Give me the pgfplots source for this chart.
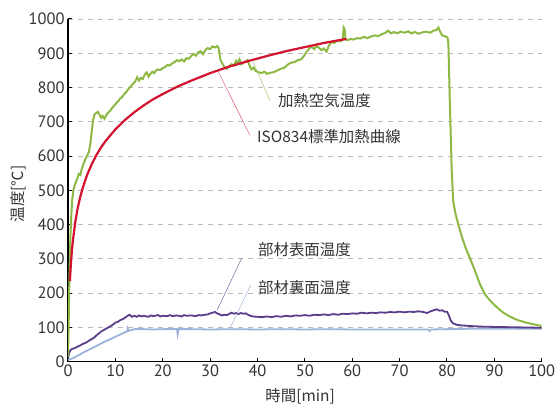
\documentclass[border=0pt]{standalone}
\usepackage{pgfplots}
\pgfplotsset{compat=1.18}
\usepackage{fontspec}
\setmainfont{PT Sans}
\newfontfamily\jp{Noto Sans CJK JP}
\definecolor{cgreen}{HTML}{8DB843}
\definecolor{cred}{HTML}{D2122E}
\definecolor{cpurple}{HTML}{5A3E8A}
\definecolor{cblue}{HTML}{9DB4DA}
\definecolor{ctext}{HTML}{333333}
\begin{document}
\begin{tikzpicture}
\begin{axis}[
  scale only axis, width=473.7bp, height=342.7bp,
  xmin=0, xmax=100, ymin=0, ymax=1000,
  axis x line=bottom, axis y line=left,
  axis line style={line width=1.4bp, -},
  xtick={0,10,...,100}, ytick={0,100,...,1000},
  tick align=inside, major tick length=4bp,
  tick style={black, line width=1bp},
  ymajorgrids,
  major grid style={gray!55, line width=0.8bp, dash pattern=on 5bp off 5bp},
  ticklabel style={font=\fontsize{16.5}{18}\selectfont, text=ctext},
  /pgf/number format/assume math mode=true,
  /pgf/number format/1000 sep={},
  xlabel={\jp 時間[min]},
  ylabel={\jp 温度[℃]},
  xlabel style={font=\fontsize{15.5}{17}\selectfont, text=ctext, at={(axis description cs:0.49,-0.1)}, anchor=center},
  ylabel style={font=\fontsize{15.5}{17}\selectfont, text=ctext, at={(axis description cs:-0.1055,0.49)}, anchor=center},
]
\addplot[cblue, line width=1.8bp] coordinates {
(0,5) (1,10) (2,17) (3,25) (4,32) (5,39) (6,46) (7,53) (8,60) (9,66) (10,73) (11,79) (12,86) (12.5,88) (12.6,97) (12.8,90) (13.2,92) (14,95) (16,95) (18,94) (20,95) (22,95) (23.0,95) (23.15,80) (23.35,95) (26,95) (30,94) (35,95) (40,94) (45,95) (50,94) (55,95) (60,94) (65,94) (70,94) (75,94) (76.0,94) (76.3,89) (76.7,94) (80,95) (85,96) (90,96) (95,96) (100,96)
};
\addplot[cpurple, line width=1.8bp] coordinates {
(0,10) (0.3,28) (0.6,35) (1.0,38) (1.5,40) (2.0,44) (2.5,47) (3.0,51) (3.5,54) (4.0,57) (4.5,62) (5.0,66) (5.5,70) (6.0,77) (6.5,82) (7.0,88) (7.5,92) (8.0,96) (8.5,100) (9.0,104) (9.5,108) (10.0,114) (10.5,116) (11.0,121) (11.5,124) (12.0,128) (12.5,133) (13.0,137) (13.5,131) (14.0,134) (14.5,131) (15.0,135) (15.5,132) (16.0,134) (17.0,131) (17.5,135) (18.0,133) (19.0,136) (19.5,132) (20.0,134) (21.0,133) (21.5,136) (22.0,133) (23.0,135) (24.0,132) (24.5,136) (25.0,134) (26.0,135) (27.0,133) (27.5,136) (28.0,135) (29.0,137) (29.5,138) (30.0,141) (30.5,143) (31.0,145) (31.5,141) (32.0,138) (32.5,135) (33.0,137) (33.5,136) (34.0,139) (34.5,143) (35.0,140) (35.5,142) (36.0,139) (36.5,142) (37.0,140) (37.5,141) (38.0,137) (38.5,134) (39.0,132) (40.0,131) (41.0,130) (42.0,132) (43.0,130) (44.0,133) (45.0,131) (46.0,134) (47.0,132) (48.0,135) (49.0,134) (50.0,136) (51.0,134) (52.0,137) (53.0,136) (54.0,138) (55.0,136) (56.0,139) (57.0,137) (58.0,140) (59.0,139) (60.0,141) (61.0,140) (62.0,143) (63.0,141) (64.0,143) (65.0,142) (66.0,144) (67.0,143) (68.0,145) (69.0,144) (70.0,146) (71.0,144) (72.0,146) (73.0,145) (74.0,147) (75.0,145) (75.8,142) (76.5,147) (77.2,150) (77.8,153) (78.4,149) (79.0,150) (79.5,146) (80.0,146) (80.4,135) (80.8,120) (81.3,112) (82.0,108) (83.0,106) (85.0,104) (88.0,102) (92.0,101) (96.0,100) (100.0,99)
};
\addplot[cgreen, line width=2bp] coordinates {
(0,15) (0.15,120) (0.3,250) (0.5,360) (0.7,430) (0.9,475) (1.2,505) (1.5,518) (1.9,532) (2.3,548) (2.6,545) (2.9,562) (3.3,578) (3.7,592) (4.1,603) (4.4,612) (4.7,635) (5.0,670) (5.3,705) (5.6,722) (6.0,726) (6.3,729) (6.6,722) (7.0,712) (7.3,717) (7.7,709) (8.1,720) (8.5,727) (9.0,734) (9.4,742) (9.8,748) (10.2,755) (10.6,760) (11.0,768) (11.4,772) (11.8,780) (12.2,785) (12.6,793) (13.0,800) (13.4,806) (13.8,812) (14.2,818) (14.6,830) (15.0,820) (15.4,828) (15.8,825) (16.2,838) (16.6,844) (17.0,832) (17.4,840) (17.8,846) (18.2,842) (18.6,850) (19.0,853) (19.5,851) (20.0,857) (20.5,860) (21.0,866) (21.5,864) (22.0,871) (22.5,874) (23.0,880) (23.5,877) (24.0,882) (24.5,876) (25.0,886) (25.5,884) (26.0,892) (26.5,898) (27.0,893) (27.5,903) (28.0,906) (28.5,897) (29.0,910) (29.5,915) (30.0,912) (30.5,920) (31.0,917) (31.5,921) (31.8,915) (32.2,880) (32.6,870) (33.0,860) (33.5,855) (34.0,862) (34.5,868) (35.0,864) (35.5,878) (35.8,870) (36.2,882) (36.6,868) (37.0,872) (37.5,876) (37.9,880) (38.3,865) (38.7,853) (39.2,858) (39.6,848) (40.2,845) (40.8,842) (41.5,846) (42.0,840) (42.7,843) (43.5,845) (44.2,850) (45.0,855) (45.7,858) (46.3,866) (47.0,872) (47.8,874) (48.5,880) (49.2,882) (49.8,892) (50.4,905) (51.0,915) (51.5,918) (52.0,912) (52.4,921) (53.0,916) (53.5,909) (54.0,914) (54.6,905) (55.0,920) (55.6,933) (56.2,930) (56.8,937) (57.5,935) (58.0,940) (58.2,975) (58.4,970) (58.6,940) (59.0,938) (59.6,942) (60.2,940) (61.0,944) (61.7,943) (62.5,948) (63.2,944) (64.0,949) (64.8,952) (65.5,950) (66.2,955) (67.0,960) (67.6,966) (68.2,958) (68.8,962) (69.5,958) (70.2,963) (71.0,960) (71.8,964) (72.5,958) (73.2,962) (74.0,957) (74.8,961) (75.6,963) (76.4,960) (77.2,966) (77.8,968) (78.2,975) (78.6,962) (79.0,952) (79.6,950) (80.1,946) (80.3,930) (80.6,760) (81.0,560) (81.3,470) (81.8,432) (82.4,400) (83.2,362) (84.0,330) (85.0,297) (86.0,262) (87.0,225) (88.0,197) (89.0,180) (90.0,166) (91.0,153) (92.0,142) (93.0,134) (94.0,127) (95.0,121) (96.0,117) (97.0,113) (98.0,110) (99.0,107) (100.0,104)
};
\addplot[cred, line width=2.2bp] coordinates {
(0.4,235) (0.6,283) (0.8,320) (1,349) (1.5,404) (2,445) (2.5,476) (3,502) (4,544) (5,576) (6,603) (7,626) (8,645) (10,678) (12,705) (14,728) (16,748) (18,766) (20,781) (23,802) (26,820) (30,842) (34,861) (38,877) (42,892) (46,906) (50,918) (54,930) (58,940) (58.8,942)
};
\draw[cgreen!80, line width=0.5bp] (axis cs:39.1,874) -- (axis cs:42.6,763);
\draw[cred!70, line width=0.5bp] (axis cs:31.7,847) -- (axis cs:38.4,661);
\draw[cpurple!80, line width=0.5bp] (axis cs:36.7,303) -- (axis cs:31.5,151);
\draw[cblue, line width=0.5bp] (axis cs:38.6,224) -- (axis cs:34.2,98);
\tikzset{lab/.style={anchor=west, text=ctext, font=\jp\fontsize{15.5}{17}\selectfont, inner sep=0pt}}
\node[lab] at (axis cs:44.3,763) {加熱空気温度};
\node[lab] at (axis cs:39.9,656) {ISO834標準加熱曲線};
\node[lab] at (axis cs:40.1,326) {部材表面温度};
\node[lab] at (axis cs:40.1,215) {部材裏面温度};
\end{axis}
\pgfresetboundingbox
\path (-68bp,-43.3bp) rectangle (490bp,361.7bp);
\end{tikzpicture}
\end{document}
